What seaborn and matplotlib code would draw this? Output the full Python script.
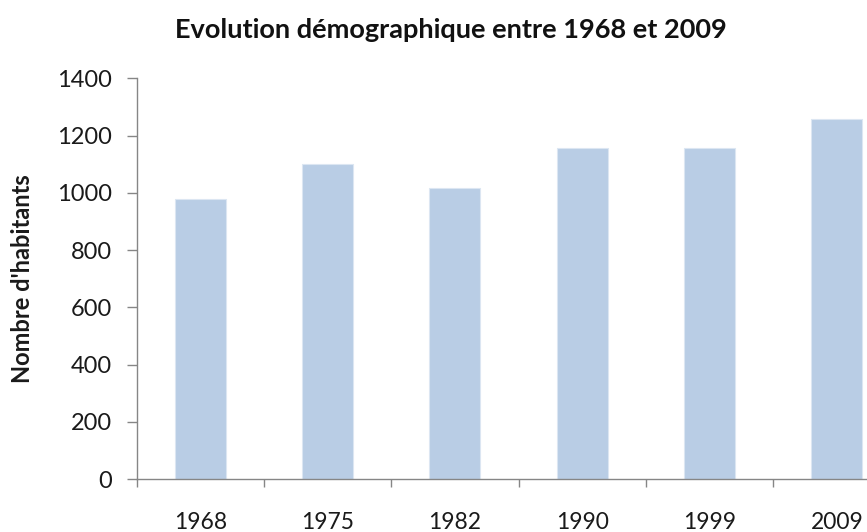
import matplotlib
matplotlib.use("Agg")
import matplotlib.pyplot as plt
import seaborn as sns
import pandas as pd

years = ["1968", "1975", "1982", "1990", "1999", "2009"]
habitants = [977, 1100, 1018, 1158, 1158, 1257]
yticks = [0, 200, 400, 600, 800, 1000, 1200, 1400]

title = "Evolution démographique entre 1968 et 2009"
ylabel = "Nombre d'habitants"

sns.set_theme(style="white")
plt.rcParams["font.family"] = ["Lato", "DejaVu Sans"]

df = pd.DataFrame({"annee": years, "hab": habitants})

fig = plt.figure(figsize=(8.67, 5.32), dpi=100)
W, H = 867, 532
left, right, top, bottom = 136.7, 900.5, 78.3, 479
ax = fig.add_axes([left / W, 1 - bottom / H, (right - left) / W, (bottom - top) / H])

sns.barplot(data=df, x="annee", y="hab", color="#B9CDE5", saturation=1,
            width=0.4, ax=ax, edgecolor="#DCE6F2", linewidth=0.8)

ax.set_ylim(0, 1400)
ax.set_xlim(-0.5, len(years) - 0.5)
ax.set_yticks(yticks)
ax.set_yticklabels([str(v) for v in yticks], fontsize=17, color="#1a1a1a")
ax.set_xticks([i - 0.5 for i in range(len(years) + 1)], minor=False)
ax.set_xticklabels([""] * (len(years) + 1))
ax.set_xticks(range(len(years)), minor=True)
ax.set_xticklabels(years, minor=True, fontsize=16.5, color="#1a1a1a")
ax.tick_params(axis="x", which="minor", length=0, pad=24)
ax.tick_params(axis="x", which="major", length=6, width=1, color="#868686", direction="out", bottom=True)
ax.tick_params(axis="y", length=7, width=1, color="#868686", direction="out", left=True, pad=11)

for s in ["top", "right"]:
    ax.spines[s].set_visible(False)
for s in ["left", "bottom"]:
    ax.spines[s].set_color("#868686")
    ax.spines[s].set_linewidth(1)

ax.set_xlabel("")
ax.set_ylabel(ylabel, fontsize=17, fontweight="bold", color="#1a1a1a")
ax.yaxis.set_label_coords(-(136.7 - 34) / (right - left), 0.5)
fig.text(451 / W, 1 - 30 / H, title, ha="center", va="center", fontsize=19.5,
         fontweight="bold", color="#111111")

fig.savefig("out.png", dpi=100)
